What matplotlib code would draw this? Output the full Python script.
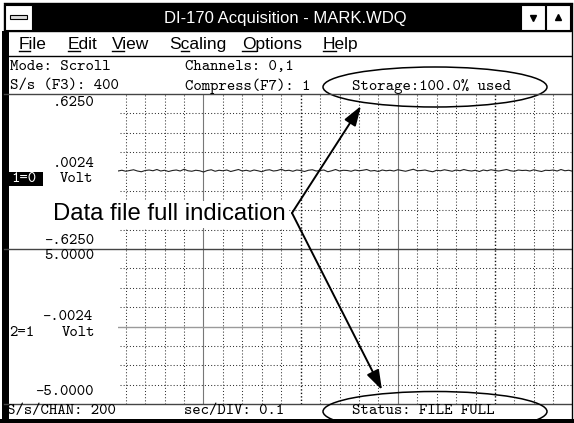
import matplotlib
matplotlib.use("Agg")
import matplotlib.pyplot as plt
from matplotlib.patches import Rectangle, Ellipse

W, H = 574, 423
DPI = 100

# acquisition settings shown on the screen
sec_per_div = 0.1
sample_step = 0.02        # s between plotted samples
scroll_offset = 0.04      # s, phase of the scrolling grid
ch1_range = 0.625
ch2_range = 5.0

# channel 1 (noisy trace around .0024 V)
ch1_volts = [
    0.004, 0.010, 0.002, 0.008, 0.014, 0.004, -0.002, 0.008, 0.012, 0.006,
    0.016, 0.004, 0.010, 0.000, 0.008, 0.012, 0.004, 0.018, 0.006, 0.002,
    0.010, 0.006, -0.004, 0.008, 0.014, 0.002, 0.010, 0.006, 0.012, 0.000,
    0.008, 0.016, 0.004, 0.010, 0.002, 0.012, 0.006, -0.002, 0.010, 0.014,
    0.004, 0.008, 0.018, 0.006, 0.010, 0.002, 0.012, 0.008, 0.000, 0.010,
    0.014, 0.004, 0.008, 0.012, -0.002, 0.006, 0.016, 0.004, 0.010, 0.008,
    0.002, 0.012, 0.006, 0.010, 0.016, 0.004, 0.008, 0.000, 0.012, 0.006,
    0.010, 0.004, 0.014, 0.008, 0.002, 0.010, 0.018, 0.006, 0.008, 0.012,
    0.004, -0.002, 0.010, 0.006, 0.014, 0.008, 0.002, 0.012, 0.006, 0.016,
    0.008, 0.004, 0.010, 0.000, 0.012, 0.006, 0.014, 0.008, 0.004, 0.010,
    0.016, 0.006, 0.002, 0.012, 0.008, 0.010, 0.004, 0.014, 0.006, 0.000,
    0.010, 0.008, 0.012, 0.004, 0.016, 0.006, 0.010, 0.002, 0.008, 0.012,
]

# channel 2 (flat)
ch2_times = [0.0, 0.6, 1.2, 1.8, 2.4]
ch2_volts = [0.0, 0.0, 0.0, 0.0, 0.0]

menu_items = ["File", "Edit", "View", "Scaling", "Options", "Help"]
menu_x = [19, 68, 112, 169, 242, 323]
menu_hot_offset = [0, 0, 0, 11.6, 0, 0]
menu_hot_width = [10.6, 11.6, 11.6, 8.7, 13.5, 12.6]

MONO = "cmtt10"
SANS = "Liberation Sans"
MONO_SIZE = 11.5

PLOT_X0, PLOT_X1 = 118, 572
TOP_Y0, MID_Y, BOT_Y1 = 94, 249, 404


def px_rect(x0, y0, x1, y1):
    return [x0 / W, 1 - y1 / H, (x1 - x0) / W, (y1 - y0) / H]


fig = plt.figure(figsize=(W / DPI, H / DPI), dpi=DPI)
fig.patch.set_facecolor("white")

ax1 = fig.add_axes(px_rect(PLOT_X0, TOP_Y0, PLOT_X1, MID_Y))
ax2 = fig.add_axes(px_rect(PLOT_X0, MID_Y, PLOT_X1, BOT_Y1))

span = (PLOT_X1 - PLOT_X0) / 194.3 * (sec_per_div * 10)
grid_t = [scroll_offset + k * sec_per_div for k in range(23)]

ch1_times = [i * sample_step for i in range(len(ch1_volts))]

for ax, rng in ((ax1, ch1_range), (ax2, ch2_range)):
    ax.set_xlim(0, span)
    ax.set_ylim(-rng, rng)
    ax.set_axis_off()
    for k, t in enumerate(grid_t):
        if k % 10 == 4:
            ax.axvline(t, color="#777777", lw=0.8, zorder=1)
        elif k % 10 == 9:
            ax.axvline(t, color="#111111", lw=1.0, ls=(0, (1, 1.5)), zorder=1)
        else:
            ax.axvline(t, color="#333333", lw=0.75, ls=(0, (1, 2)), zorder=1)
    div = rng / 4
    for j in (-3, -2, -1, 1, 2, 3):
        ax.axhline(j * div, xmin=0.005, color="#333333", lw=0.75,
                   ls=(0, (1, 2)), zorder=1)

ax1.plot(ch1_times, ch1_volts, color="#222222", lw=0.8, zorder=3)
ax2.plot(ch2_times, ch2_volts, color="#9a9a9a", lw=1.0, zorder=3)

# overlay for window chrome and annotations
ov = fig.add_axes([0, 0, 1, 1], zorder=5)
ov.set_xlim(0, W)
ov.set_ylim(H, 0)
ov.set_axis_off()
ov.patch.set_alpha(0)

# title bar
ov.add_patch(Rectangle((4, 4), 567, 27, facecolor="black", edgecolor="black"))
ov.add_patch(Rectangle((5, 5), 27, 25, facecolor="white", edgecolor="black", lw=0.8))
ov.add_patch(Rectangle((10, 15), 17, 4, facecolor="#dddddd", edgecolor="black", lw=0.8))
ov.add_patch(Rectangle((521, 5), 24, 25, facecolor="white", edgecolor="black", lw=0.8))
ov.add_patch(Rectangle((546, 5), 24, 25, facecolor="white", edgecolor="black", lw=0.8))
ov.plot([533], [18], marker="v", color="black", ms=5)
ov.plot([558], [17], marker="^", color="black", ms=5)
ov.text(285, 18, "DI-170 Acquisition - MARK.WDQ", color="white", family=SANS,
        fontsize=12, ha="center", va="center")

# menu bar
for name, x, off, wd in zip(menu_items, menu_x, menu_hot_offset, menu_hot_width):
    ov.text(x, 49, name, family=SANS, fontsize=12.5, ha="left", va="baseline")
    ov.plot([x + off, x + off + wd], [51, 51], color="black", lw=1)

# window frame and separators
ov.plot([4, 571], [56, 56], color="black", lw=1)
ov.plot([4, 571], [TOP_Y0, TOP_Y0], color="#444444", lw=1)
ov.plot([4, 571], [MID_Y, MID_Y], color="#444444", lw=1)
ov.plot([4, 571], [BOT_Y1, BOT_Y1], color="#444444", lw=1)
ov.plot([571.5, 571.5], [4, 421], color="black", lw=1)
ov.plot([3.5, 571.5], [3.5, 3.5], color="black", lw=1)
ov.add_patch(Rectangle((2, 31), 7, 392, facecolor="black", edgecolor="none"))
ov.add_patch(Rectangle((0, 419), W, 4, facecolor="black", edgecolor="none", zorder=4))

mono = dict(family=MONO, fontsize=MONO_SIZE, va="center", ha="left")
ov.text(10, 67, "Mode: Scroll", **mono)
ov.text(185, 67, "Channels: 0,1", **mono)
ov.text(10, 86, "S/s (F3): 400", **mono)
ov.text(185, 86, "Compress(F7): 1", **mono)
ov.text(352, 86, "Storage:100.0% used", **mono)

ov.text(7, 411, "S/s/CHAN: 200", **mono)
ov.text(184, 411, "sec/DIV: 0.1", **mono)
ov.text(352, 411, "Status: FILE FULL", **mono)

# channel labels
ov.text(53, 103, ".6250", **mono)
ov.text(53, 164, ".0024", **mono)
ov.text(60, 179, "Volt", **mono)
ov.add_patch(Rectangle((9, 172), 34, 14, facecolor="black", edgecolor="none"))
ov.text(11, 179, "1=0", color="white", **{k: v for k, v in mono.items()})
ov.text(44, 241, "-.6250", **mono)
ov.text(44, 256, "5.0000", **mono)
ov.text(42, 317, "-.0024", **mono)
ov.text(9, 333, "2=1", **mono)
ov.text(62, 333, "Volt", **mono)
ov.text(35, 392, "-5.0000", **mono)

# annotation
ov.add_patch(Ellipse((435, 87), 224, 40, fill=False, edgecolor="black", lw=1.1))
ov.add_patch(Ellipse((435, 411.5), 224, 40, fill=False, edgecolor="black", lw=1.1, zorder=3))
ov.text(53, 220.5, "Data file full indication", family=SANS, fontsize=17.2,
        ha="left", va="baseline",
        bbox=dict(facecolor="white", edgecolor="none", pad=2))
arrow = dict(arrowstyle="-|>,head_length=0.6,head_width=0.2", mutation_scale=20,
             lw=1.4, color="black", shrinkA=0, shrinkB=0)
ov.annotate("", xy=(361, 106), xytext=(292, 213), arrowprops=arrow)
ov.annotate("", xy=(382, 390), xytext=(292, 213), arrowprops=arrow)

fig.savefig("out.png", dpi=DPI)
